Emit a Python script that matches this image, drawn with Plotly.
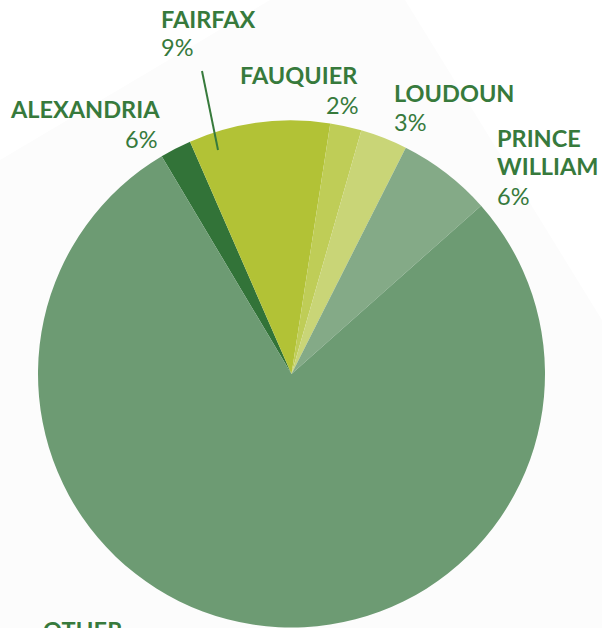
import plotly.graph_objects as go

# Data
regions = ["ALEXANDRIA", "FAIRFAX", "FAUQUIER", "LOUDOUN", "PRINCE WILLIAM", "OTHER"]
shares = [2, 9, 2, 3, 6, 78]  # slice sizes
pct_labels = ["6%", "9%", "2%", "3%", "6%", ""]  # percent labels as printed
colors = ["#327338", "#b2c236", "#bfcd57", "#c9d577", "#84aa87", "#6d9b73"]

W, H = 602, 628
TXT = "#377a3c"
FONT = "Lato"
FS = 23.5

def px(x):
    return x / W

def py(y):
    return 1 - y / H

fig = go.Figure()
fig.add_trace(go.Pie(
    labels=regions,
    values=shares,
    sort=False,
    direction="clockwise",
    rotation=-30.8,
    marker=dict(colors=colors, line=dict(width=0)),
    textinfo="none",
    hoverinfo="label+percent",
    showlegend=False,
    domain=dict(x=[px(38), px(545)], y=[py(627.5), py(120.5)]),
))

shapes = [
    # faint background card
    dict(type="path", xref="paper", yref="paper", layer="below",
         path=f"M {px(0)},{py(160)} L {px(270)},{py(0)} L {px(405)},{py(0)} "
              f"L {px(602)},{py(320)} L {px(602)},{py(628)} L {px(0)},{py(628)} Z",
         fillcolor="#fcfcfc", line=dict(width=0)),
    # leader line for Fairfax
    dict(type="line", xref="paper", yref="paper",
         x0=px(202), y0=py(71), x1=px(218), y1=py(150),
         line=dict(color=TXT, width=2)),
]

# label layout: (name lines, name x, name anchor, first line cap-centre y, pct x, pct anchor, pct y)
label_pos = {
    "ALEXANDRIA": (["ALEXANDRIA"], 8, "left", 108.5, 159, "right", 138.5),
    "FAIRFAX": (["FAIRFAX"], 159, "left", 19.5, 159, "left", 47),
    "FAUQUIER": (["FAUQUIER"], 360, "right", 74.5, 360, "right", 104.5),
    "LOUDOUN": (["LOUDOUN"], 392, "left", 93, 392, "left", 121.5),
    "PRINCE WILLIAM": (["PRINCE", "WILLIAM"], 495, "left", 138, 495, "left", 195.5),
    "OTHER": (["OTHER"], 41, "left", 630, 41, "left", 660),
}

annotations = []
for name, pct in zip(regions, pct_labels):
    lines, nx, nanchor, ny, qx, qanchor, qy = label_pos[name]
    for i, ln in enumerate(lines):
        annotations.append(dict(
            x=px(nx), y=py(ny + i * 28), xref="paper", yref="paper",
            text=f"<b>{ln}</b>", showarrow=False, xanchor=nanchor, yanchor="middle",
            font=dict(family=FONT, size=FS, color=TXT),
        ))
    if pct:
        annotations.append(dict(
            x=px(qx), y=py(qy), xref="paper", yref="paper",
            text=pct, showarrow=False, xanchor=qanchor, yanchor="middle",
            font=dict(family=FONT, size=FS, color=TXT),
        ))

fig.update_layout(
    width=W, height=H,
    margin=dict(l=0, r=0, t=0, b=0),
    paper_bgcolor="white",
    plot_bgcolor="white",
    shapes=shapes,
    annotations=annotations,
)

fig.write_html(
    "out.html",
    config={"displayModeBar": False},
    post_script="document.body.style.margin='0';document.body.style.overflow='hidden';",
)
